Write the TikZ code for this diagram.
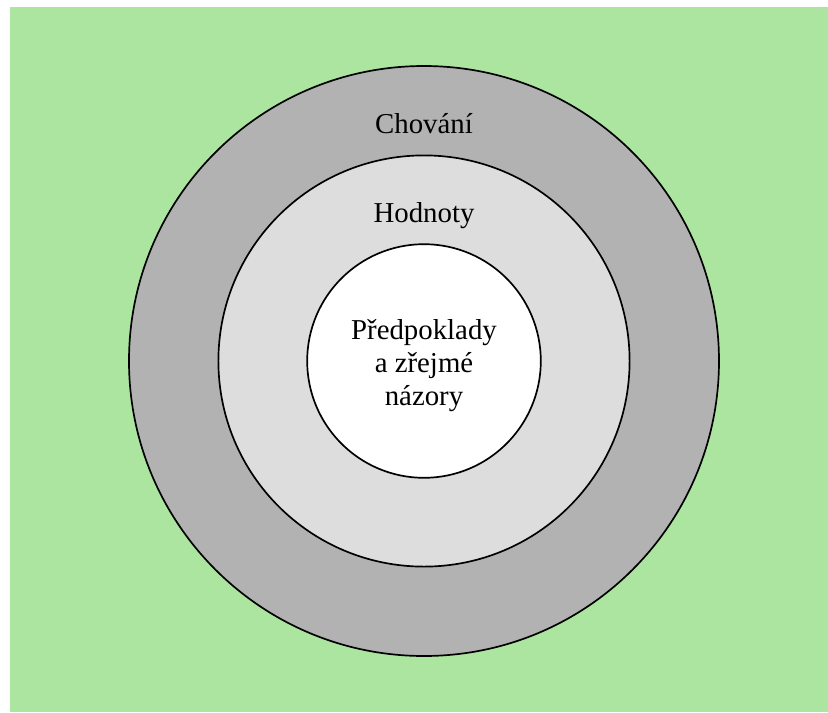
\documentclass[tikz,border=0pt]{standalone}
\usepackage{fontspec}
\setmainfont{Liberation Serif}
\usepackage{tikz}
\usetikzlibrary{positioning}

\definecolor{pozadi}{RGB}{171,229,160}
\definecolor{vnejsi}{RGB}{178,178,178}
\definecolor{stredni}{RGB}{221,221,221}

\tikzset{
  vrstva/.style={draw=black, line width=1.2pt},
  popis/.style={font=\fontsize{20.5}{23.5}\selectfont, align=center, inner sep=0pt}
}

\begin{document}
\begin{tikzpicture}
        \useasboundingbox (-10.6, -8.775) rectangle (10.1, 9.025);
        \fill[pozadi] (-10.35, -8.775) rectangle (10.1, 8.85);

        \draw[vrstva, fill=vnejsi] (0, 0) circle[radius=7.375];
        \draw[vrstva, fill=stredni] (0, 0) circle[radius=5.14];
        \draw[vrstva, fill=white] (0, 0) circle[radius=2.92];

        \node[popis, anchor=base] (chovani) at (0, 5.7) {Chování};
        \node[popis, anchor=base] (hodnoty) at (0, 3.475) {Hodnoty};
        \node[popis] (predpoklady) at (0, -0.12) {Předpoklady\\a zřejmé\\názory};
      \end{tikzpicture}
\end{document}
